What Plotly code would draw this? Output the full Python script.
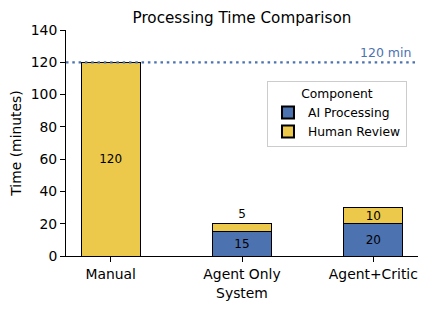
import plotly.graph_objects as go

systems = ["Manual", "Agent Only", "Agent+Critic"]
ai_processing = [0, 15, 20]
human_review = [120, 5, 10]
baseline = 120
y_ticks = [0, 20, 40, 60, 80, 100, 120, 140]

BLUE = "#4C72B0"
YELLOW = "#ECC94B"
FONT = "DejaVu Sans"

# page body has an 8px default margin, so the figure is sized/offset to compensate
W, H = 421, 301

fig = go.Figure()
fig.add_trace(go.Bar(
    x=systems, y=ai_processing, name="AI Processing",
    marker=dict(color=BLUE, line=dict(color="black", width=1)),
    width=0.45,
    text=[str(v) if v > 0 else "" for v in ai_processing],
    textposition="inside", insidetextanchor="middle",
    textfont=dict(size=12, color="black", family=FONT),
    constraintext="none",
))
fig.add_trace(go.Bar(
    x=systems, y=human_review, name="Human Review",
    marker=dict(color=YELLOW, line=dict(color="black", width=1)),
    width=0.45,
    text=[str(v) for v in human_review],
    textposition=["inside" if v >= 10 else "outside" for v in human_review],
    insidetextanchor="middle",
    textfont=dict(size=12, color="black", family=FONT),
    constraintext="none",
    cliponaxis=False,
))

fig.add_shape(type="line", xref="paper", x0=0, x1=1, yref="y", y0=baseline, y1=baseline,
              line=dict(color=BLUE, width=2.2, dash="2.5px,3.8px"))
fig.add_annotation(xref="paper", x=0.985, yref="y", y=baseline, text=f"{baseline} min",
                   showarrow=False, xanchor="right", yanchor="bottom", yshift=0,
                   font=dict(size=12.5, color=BLUE, family=FONT))

fig.update_layout(
    barmode="stack",
    width=W, height=H,
    margin=dict(l=58, r=11, t=22, b=53, autoexpand=False),
    paper_bgcolor="white", plot_bgcolor="white",
    font=dict(family=FONT, size=13.9, color="black"),
    title=dict(text="Processing Time Comparison", x=0.5, xanchor="center",
               xref="paper", y=1 - 10 / H, yanchor="middle",
               font=dict(size=15.2, color="black", family=FONT)),
    showlegend=True,
    legend=dict(
        title=dict(text="Component", side="top center", font=dict(size=12.3)),
        x=0.571, xanchor="left", y=0.774, yanchor="top",
        bordercolor="#cccccc", borderwidth=1, bgcolor="rgba(255,255,255,0.8)",
        font=dict(size=12.3, family=FONT), traceorder="normal",
        itemsizing="constant", tracegroupgap=0,
    ),
    bargap=0.3,
)
fig.update_xaxes(
    range=[-0.34, 2.34], showline=True, linecolor="black", linewidth=1,
    ticks="outside", ticklen=5, tickcolor="black", showgrid=False,
    title=dict(text="System", font=dict(size=13.9), standoff=7),
    tickfont=dict(size=13.9), automargin=False,
)
fig.update_yaxes(
    range=[0, 140], tickvals=y_ticks, showline=True, linecolor="black", linewidth=1,
    ticks="outside", ticklen=5, tickcolor="black", showgrid=False, zeroline=False,
    title=dict(text="Time (minutes)", font=dict(size=13.9), standoff=5),
    tickfont=dict(size=13.9), automargin=False,
)

fig.write_html("out.html")
